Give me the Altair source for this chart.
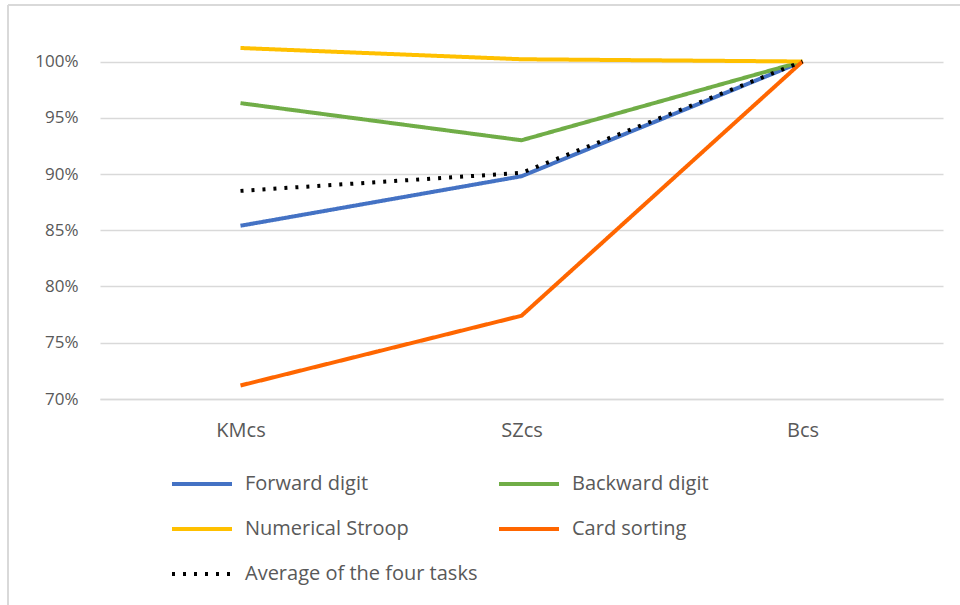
import altair as alt
import pandas as pd

categories = ["KMcs", "SZcs", "Bcs"]
series_names = ["Forward digit", "Backward digit", "Numerical Stroop", "Card sorting", "Average of the four tasks"]
forward_digit = [0.854, 0.898, 1.000]
backward_digit = [0.963, 0.930, 1.000]
numerical_stroop = [1.012, 1.002, 1.000]
card_sorting = [0.712, 0.774, 1.000]
average_four = [0.885, 0.901, 1.000]
y_ticks = [0.70, 0.75, 0.80, 0.85, 0.90, 0.95, 1.00]
colors = ["#4472C4", "#70AD47", "#FFC000", "#FF6600", "#000000"]
dashes = [[1, 0], [1, 0], [1, 0], [1, 0], [3, 8]]

rows = []
for name, vals in zip(series_names, [forward_digit, backward_digit, numerical_stroop, card_sorting, average_four]):
    for i, (c, v) in enumerate(zip(categories, vals)):
        rows.append({"category": c, "idx": i, "series": name, "value": v})
df = pd.DataFrame(rows)

FONT = "Open Sans"
GRAY = "#595959"

lines = alt.Chart(df).mark_line(strokeWidth=4, clip=False).encode(
    x=alt.X("category:N", sort=categories,
            scale=alt.Scale(paddingInner=0, paddingOuter=0),
            axis=alt.Axis(title=None, labelAngle=0, ticks=False, domain=True,
                          domainColor="#d9d9d9", domainWidth=1.5, labelFontSize=20, labelColor=GRAY,
                          labelFont=FONT, labelPadding=21)),
    y=alt.Y("value:Q", scale=alt.Scale(domain=[0.70, 1.02], nice=False, zero=False),
            axis=alt.Axis(title=None, values=y_ticks, format=".0%", ticks=False, domain=False,
                          gridColor="#d9d9d9", gridWidth=1.5, labelFontSize=17,
                          labelColor=GRAY, labelFont=FONT, labelPadding=22)),
    color=alt.Color("series:N", sort=series_names,
                    scale=alt.Scale(domain=series_names, range=colors),
                    legend=alt.Legend(title=None, orient="none", legendX=70, legendY=413,
                                      direction="horizontal", columns=2,
                                      symbolType="stroke", symbolSize=3600,
                                      symbolStrokeWidth=4, labelFontSize=20, labelFont=FONT,
                                      labelColor=GRAY, labelOffset=11, rowPadding=3,
                                      columnPadding=13, labelLimit=400)),
    strokeDash=alt.StrokeDash("series:N", sort=series_names,
                              scale=alt.Scale(domain=series_names, range=dashes)),
    order=alt.Order("idx:Q"),
)

frame_top = alt.Chart(df).mark_rule(color="#d9d9d9", strokeWidth=1.5).encode(
    x=alt.value(-92), x2=alt.value(900), y=alt.value(-34))
frame_left = alt.Chart(df).mark_rule(color="#d9d9d9", strokeWidth=1.5).encode(
    x=alt.value(-92), y=alt.value(-34), y2=alt.value(600))

chart = alt.layer(lines, frame_top, frame_left).properties(
    width=843, height=360,
    background="white",
    autosize=alt.AutoSizeParams(type="none"),
    padding={"left": 100, "top": 39, "right": 17, "bottom": 206},
).configure_view(stroke=None)

chart.save("out.html", embed_options={"renderer": "svg", "actions": False})
